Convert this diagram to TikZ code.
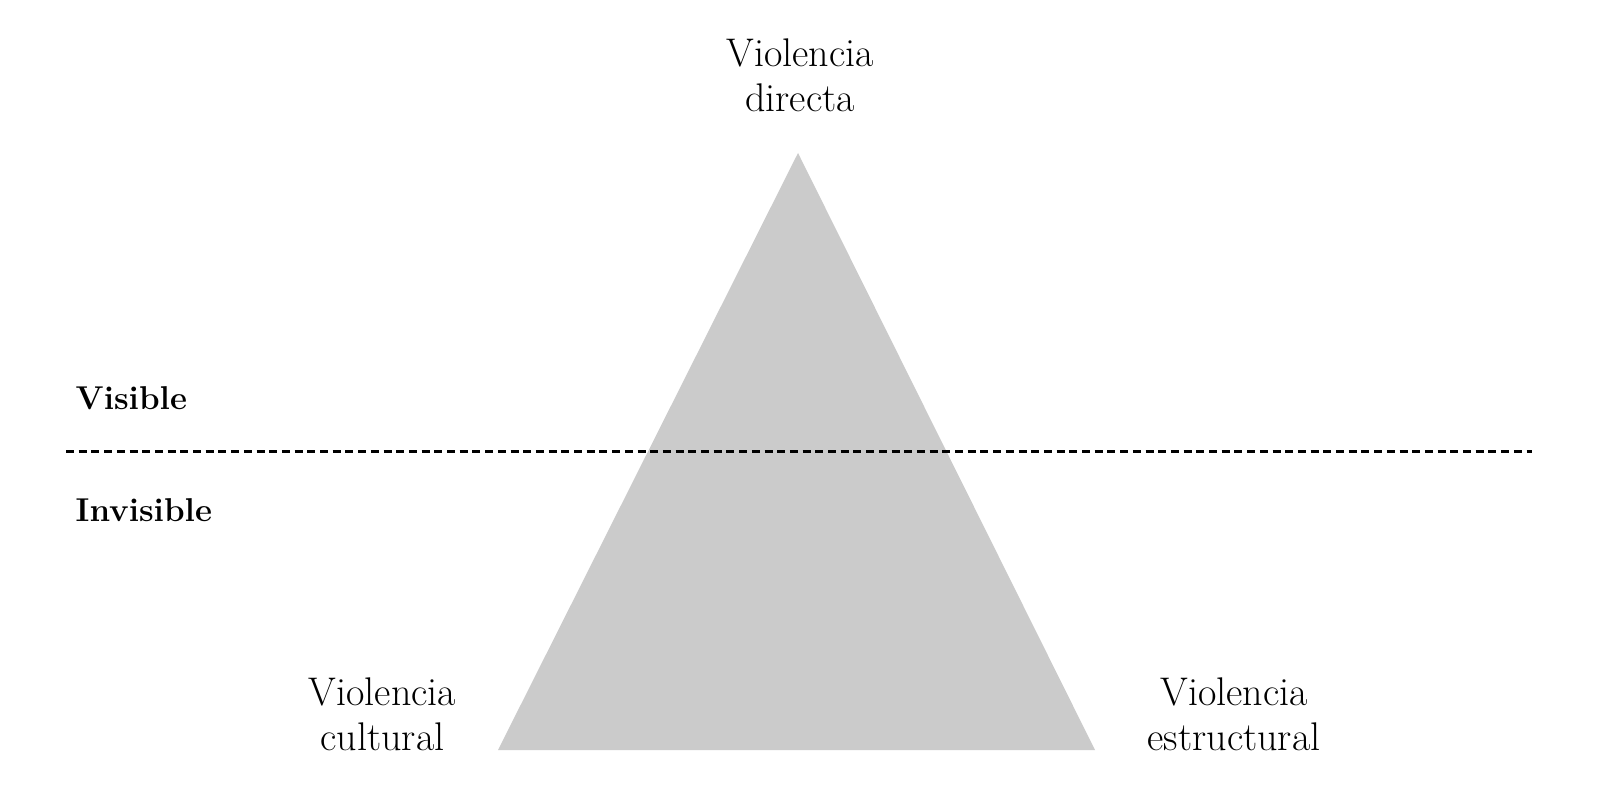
\documentclass[tikz,border=0pt]{standalone}
\begin{document}
\begin{tikzpicture}[x=1pt,y=-1pt,
  lbl/.style={align=center,inner sep=0pt,font=\fontsize{40}{45}\selectfont},
  side/.style={inner sep=0pt,anchor=base west,font=\fontsize{33}{38}\selectfont\bfseries},
  sep/.style={line width=2.8pt,dash pattern=on 8pt off 4.7pt}]
\useasboundingbox (0,0) rectangle (1600,791);
\coordinate (apex) at (798,153);
\coordinate (bl) at (498,750);
\coordinate (br) at (1095,750);
\fill[fill={rgb,255:red,203;green,203;blue,203}] (apex) -- (br) -- (bl) -- cycle;
\coordinate (d1) at (66,451.5);
\coordinate (d2) at (1532,451.5);
\draw[sep] (d1) -- (d2);
\node[side] (vis) at (75.5,409) {Visible};
\node[side] (inv) at (75.5,521.7) {Invisible};
\node[lbl,anchor=base] (dir) at (800,111.7) {Violencia\\directa};
\node[lbl,anchor=base] (cul) at (382.5,750) {Violencia\\cultural};
\node[lbl,anchor=base] (est) at (1234,750) {Violencia\\estructural};
\end{tikzpicture}
\end{document}
